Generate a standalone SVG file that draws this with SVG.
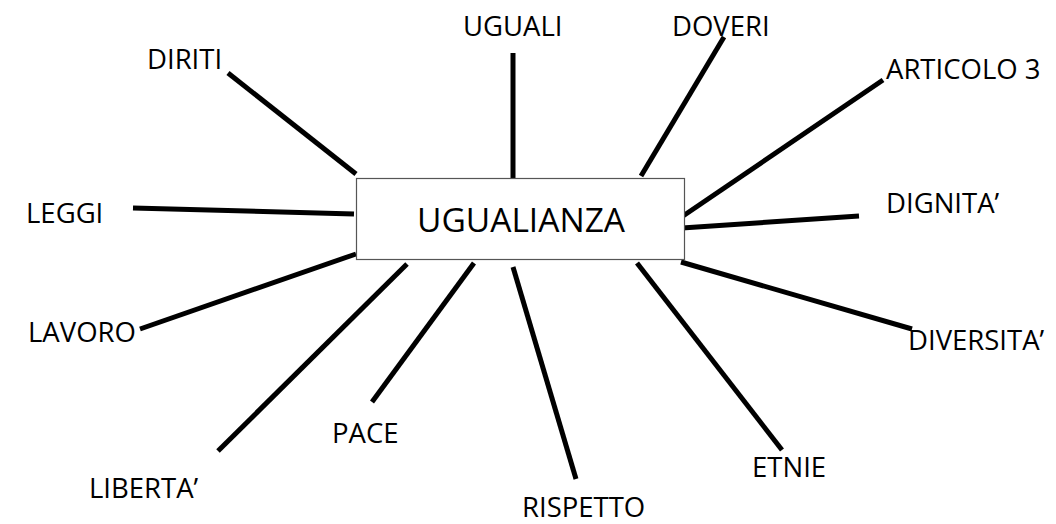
<svg xmlns="http://www.w3.org/2000/svg" width="1056" height="524" viewBox="0 0 1056 524">
<style>
.lbl{font-family:"Open Sans","Liberation Sans",sans-serif;font-size:27.5px;fill:#000}
.ctr{font-family:"Open Sans","Liberation Sans",sans-serif;font-size:33.5px;fill:#000}
.con line{stroke:#000;stroke-width:5;stroke-linecap:butt}
</style>
<rect width="1056" height="524" fill="#fff"/>
<g id="connectors" class="con">
<line x1="228" y1="73" x2="356" y2="174"/>
<line x1="513" y1="53" x2="513" y2="178"/>
<line x1="724" y1="37" x2="641" y2="176"/>
<line x1="883" y1="80" x2="683" y2="216"/>
<line x1="859" y1="216" x2="682" y2="228"/>
<line x1="133" y1="208" x2="354" y2="214"/>
<line x1="140" y1="329" x2="356" y2="254"/>
<line x1="218" y1="451" x2="407" y2="264"/>
<line x1="372" y1="402" x2="474" y2="263"/>
<line x1="513" y1="267" x2="576" y2="479"/>
<line x1="637" y1="263" x2="782" y2="450"/>
<line x1="681" y1="262" x2="912" y2="329"/>
</g>
<g id="center">
<rect x="356.5" y="178.5" width="328" height="81" fill="#fff" stroke="#555" stroke-width="1.2"/>
<text class="ctr" x="417" y="232">UGUALIANZA</text>
</g>
<g id="diriti"><text class="lbl" x="147" y="69">DIRITI</text></g>
<g id="uguali"><text class="lbl" x="463" y="36">UGUALI</text></g>
<g id="doveri"><text class="lbl" x="672" y="36">DOVERI</text></g>
<g id="articolo3"><text class="lbl" x="886" y="79">ARTICOLO 3</text></g>
<g id="dignita"><text class="lbl" x="886" y="213">DIGNITA’</text></g>
<g id="leggi"><text class="lbl" x="26" y="223">LEGGI</text></g>
<g id="lavoro"><text class="lbl" x="28" y="342">LAVORO</text></g>
<g id="liberta"><text class="lbl" x="89" y="498">LIBERTA’</text></g>
<g id="pace"><text class="lbl" x="332" y="443">PACE</text></g>
<g id="rispetto"><text class="lbl" x="522" y="517">RISPETTO</text></g>
<g id="etnie"><text class="lbl" x="752" y="477">ETNIE</text></g>
<g id="diversita"><text class="lbl" x="908" y="350">DIVERSITA’</text></g>
</svg>
